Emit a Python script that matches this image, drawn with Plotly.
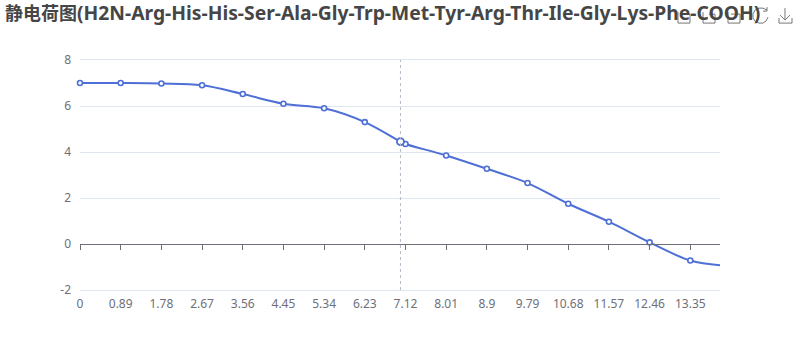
import plotly.graph_objects as go

TITLE_CJK = "静电荷图"
TITLE_LATIN = "(H2N-Arg-His-His-Ser-Ala-Gly-Trp-Met-Tyr-Arg-Thr-Ile-Gly-Lys-Phe-COOH)"
tick_values = [0, 0.89, 1.78, 2.67, 3.56, 4.45, 5.34, 6.23, 7.12, 8.01, 8.9, 9.79, 10.68, 11.57, 12.46, 13.35]
tick_labels = ["0", "0.89", "1.78", "2.67", "3.56", "4.45", "5.34", "6.23", "7.12", "8.01", "8.9", "9.79", "10.68", "11.57", "12.46", "13.35"]
charge_at_ticks = [7.0, 7.0, 6.98, 6.9, 6.52, 6.1, 5.9, 5.3, 4.35, 3.85, 3.27, 2.65, 1.75, 0.97, 0.07, -0.72]
hover_ph = 7.01
hover_charge = 4.45
end_ph = 14.0
end_charge = -0.92
y_ticks = [-2, 0, 2, 4, 6, 8]
y_labels = ["-2", "0", "2", "4", "6", "8"]

LINE = "#4E6FD6"
GREY = "#6E7079"
FONT = "Noto Sans"

line_x = tick_values[:8] + [hover_ph] + tick_values[8:] + [end_ph]
line_y = charge_at_ticks[:8] + [hover_charge] + charge_at_ticks[8:] + [end_charge]

fig = go.Figure()
fig.add_trace(go.Scatter(x=line_x, y=line_y, mode="lines", line=dict(color=LINE, width=2, shape="spline", smoothing=1),
                         hoverinfo="skip", showlegend=False))
fig.add_trace(go.Scatter(x=tick_values, y=charge_at_ticks, mode="markers", cliponaxis=False,
                         marker=dict(size=5, color="white", line=dict(color=LINE, width=1.6)),
                         hoverinfo="skip", showlegend=False))
fig.add_trace(go.Scatter(x=[hover_ph], y=[hover_charge], mode="markers", cliponaxis=False,
                         marker=dict(size=7, color="white", line=dict(color=LINE, width=1.8)),
                         hoverinfo="skip", showlegend=False))
fig.add_trace(go.Scatter(x=[0], y=[0], xaxis="x2", mode="markers", marker=dict(opacity=0), hoverinfo="skip", showlegend=False))

L, R, T, B = 80, 720, 60, 290.5
def px(x): return (x - L) / (R - L)
def py(y): return (B - y) / (B - T)

def icon(d):
    out, toks = [], d.split()
    i = 0
    while i < len(toks):
        t = toks[i]
        if t in "MLZ":
            out.append(t); i += 1
            if t != "Z":
                out.append(f"{px(float(toks[i])):.5f},{py(float(toks[i+1])):.5f}"); i += 2
        else:
            out.append(f"{px(float(t)):.5f},{py(float(toks[i+1])):.5f}"); i += 2
    return " ".join(out)

ICON_PATHS = [
    "M 678 12 L 678 23 L 690 23 L 690 14 L 684 14",
    "M 703 12 L 703 23 L 715 23 L 715 14 L 709 14",
    "M 728 12 L 728 23 L 740 23 L 740 14 L 731 14",
    "M 767 10 L 763 8 L 759 8 L 755 10 L 753 14 L 753 18 L 755 21 L 759 23 L 763 23 L 766 21 L 768 17 M 763 11 L 767 11 L 767 7",
    "M 785 8 L 785 19 M 780 15 L 785 20 L 790 15 M 779 18 L 779 23 L 792 23 L 792 18",
]
shapes = [dict(type="line", xref="x", yref="y", x0=hover_ph, x1=hover_ph, y0=-2, y1=8,
               line=dict(color="#B6B9C7", width=1, dash="3px,3px"))]
for p in ICON_PATHS:
    shapes.append(dict(type="path", xref="paper", yref="paper", path=icon(p), line=dict(color="#777777", width=1)))

title_text = f'{TITLE_CJK}<span style="font-size:19.3px">{TITLE_LATIN}</span>'

fig.update_layout(
    width=800, height=360,
    margin=dict(l=L, r=800 - R, t=T, b=360 - B, pad=0),
    paper_bgcolor="white", plot_bgcolor="white",
    title=dict(text=title_text, x=5 / 800, xanchor="left", y=1 - 14 / 360, yanchor="middle", xref="container", yref="container",
               font=dict(family="Noto Sans, Noto Sans CJK SC", size=18, color="#464646", weight="bold")),
    xaxis=dict(range=[0, end_ph], tickvals=tick_values, ticktext=tick_labels, ticks="", showgrid=False, zeroline=False,
               showline=True, mirror=True, linecolor="#E0E6F1", linewidth=1,
               tickfont=dict(family=FONT, size=12, color=GREY), ticklabelstandoff=3),
    xaxis2=dict(range=[0, end_ph], overlaying="x", anchor="free", position=0.2, side="bottom", tickvals=tick_values,
                ticks="outside", ticklen=5, tickwidth=1, tickcolor=GREY, showticklabels=False, showgrid=False,
                zeroline=False, showline=True, linecolor=GREY, linewidth=1),
    yaxis=dict(range=[-2, 8], tickvals=y_ticks, ticktext=y_labels, showgrid=True, gridcolor="#E0E6F1", gridwidth=1, zeroline=False,
               showline=False, ticks="", ticklabelstandoff=8, tickfont=dict(family=FONT, size=12, color=GREY)),
    shapes=shapes,
)
fig.write_html("out.html", config=dict(displayModeBar=False), post_script="document.body.style.margin='0';")
